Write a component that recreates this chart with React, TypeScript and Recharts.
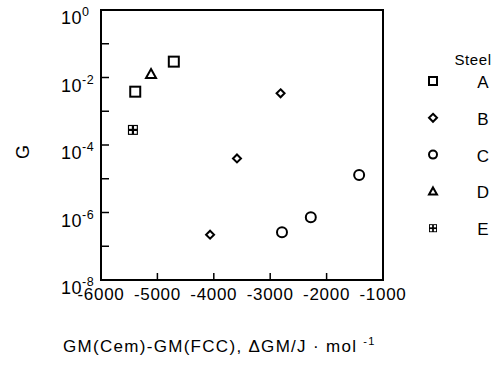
import React from "react";
import { ScatterChart, Scatter, XAxis, YAxis, ReferenceArea, Label } from "recharts";

const steelA = [
  { x: -5393, y: 0.0038 },
  { x: -4709, y: 0.0295 },
];
const steelB = [
  { x: -3589, y: 4.0e-5 },
  { x: -2816, y: 3.4e-3 },
  { x: -4066, y: 2.2e-7 },
];
const steelC = [
  { x: -1423, y: 1.3e-5 },
  { x: -2280, y: 7.2e-7 },
  { x: -2791, y: 2.6e-7 },
];
const steelD = [{ x: -5113, y: 0.0127 }];
const steelE = [{ x: -5434, y: 2.8e-4 }];

const xTicks = [-6000, -5000, -4000, -3000, -2000, -1000];
const yTicks = [1e-8, 1e-7, 1e-6, 1e-5, 1e-4, 1e-3, 1e-2, 1e-1, 1];
const legendNames = ["A", "B", "C", "D", "E"];

const FONT = "'Liberation Sans', Arial, Helvetica, sans-serif";

const Square = ({ cx, cy, s = 5 }: any) => (
  <rect x={cx - s} y={cy - s} width={2 * s} height={2 * s} fill="#fff" stroke="#000" strokeWidth={2} />
);
const Diamond = ({ cx, cy, s = 4 }: any) => (
  <path d={`M${cx},${cy - s} L${cx + s},${cy} L${cx},${cy + s} L${cx - s},${cy} Z`} fill="#fff" stroke="#000" strokeWidth={2} />
);
const Circle = ({ cx, cy, s = 4.5 }: any) => (
  <circle cx={cx} cy={cy} r={s} fill="#fff" stroke="#000" strokeWidth={2} />
);
const Triangle = ({ cx, cy, s = 5 }: any) => (
  <path d={`M${cx},${cy - s} L${cx + s},${cy + s * 0.8} L${cx - s},${cy + s * 0.8} Z`} fill="#fff" stroke="#000" strokeWidth={2} />
);
const GridSq = ({ cx, cy, s = 5 }: any) => {
  const h = s * 0.55;
  const g = s * 0.22;
  return (
    <g>
      <rect x={cx - s} y={cy - s} width={2 * s} height={2 * s} fill="#000" />
      <rect x={cx - g - h} y={cy - g - h} width={h} height={h} fill="#fff" />
      <rect x={cx + g} y={cy - g - h} width={h} height={h} fill="#fff" />
      <rect x={cx - g - h} y={cy + g} width={h} height={h} fill="#fff" />
      <rect x={cx + g} y={cy + g} width={h} height={h} fill="#fff" />
    </g>
  );
};

const shapes = [Square, Diamond, Circle, Triangle, GridSq];

const XTick = ({ x, y, payload }: any) => (
  <g>
    <line x1={x} y1={y} x2={x} y2={y - 7} stroke="#000" strokeWidth={1.5} />
    <text x={x} y={y + 20} textAnchor="middle" fontFamily={FONT} fontSize={17} letterSpacing={0.7} fill="#000">
      {payload.value}
    </text>
  </g>
);

const YTick = ({ x, y, payload }: any) => {
  const exp = Math.round(Math.log10(payload.value));
  const labeled = exp % 2 === 0;
  return (
    <g>
      <line x1={x} y1={y} x2={x + 8} y2={y} stroke="#000" strokeWidth={1.5} />
      {labeled && (
        <text x={x - 40} y={y + 14} textAnchor="start" fontFamily={FONT} fontSize={18} letterSpacing={0.5} fill="#000">
          <tspan>10</tspan>
          <tspan fontSize={12.5} dy={-8}>{exp}</tspan>
        </text>
      )}
    </g>
  );
};

const XLabel = ({ viewBox }: any) => {
  return (
    <text x={viewBox.x - 38} y={viewBox.y + 72} textAnchor="start" fontFamily={FONT} fontSize={17} letterSpacing={1.3} fill="#000">
      <tspan>GM(Cem)-GM(FCC),  </tspan>
      <tspan>{"\u0394"}GM/J {"\u00B7"} mol </tspan>
      <tspan fontSize={11} dy={-7}>-1</tspan>
    </text>
  );
};

const YLabel = ({ viewBox }: any) => {
  const x = viewBox.x + 23;
  const y = viewBox.y + viewBox.height / 2 + 7;
  return (
    <text x={x} y={y} transform={`rotate(-90 ${x} ${y})`} textAnchor="middle" dominantBaseline="central" fontFamily={FONT} fontSize={18} fill="#000">
      G
    </text>
  );
};

const LegendBox = () => (
  <svg width={90} height={220} style={{ position: "absolute", left: 418, top: 40, overflow: "visible" }}>
    <text x={55} y={25} textAnchor="middle" fontFamily={FONT} fontSize={15} letterSpacing={0.6} fill="#000">Steel</text>
    {legendNames.map((n, i) => {
      const Sh = shapes[i];
      const cy = 41 + i * 36.8;
      return (
        <g key={n}>
          <Sh cx={15} cy={cy} s={4} />
          <text x={65} y={cy + 7} textAnchor="middle" fontFamily={FONT} fontSize={17} fill="#000">{n}</text>
        </g>
      );
    })}
  </svg>
);

export default function App() {
  const series = [steelA, steelB, steelC, steelD, steelE];
  return (
    <div style={{ position: "absolute", left: 0, top: 0, width: 497, height: 365, background: "#fff" }}>
      <ScatterChart width={497} height={365} margin={{ top: 10, right: 114, bottom: 0, left: 0 }}>
        <XAxis
          type="number"
          dataKey="x"
          domain={[-6000, -1000]}
          ticks={xTicks}
          allowDataOverflow
          tickSize={0}
          tickMargin={0}
          tickLine={false}
          axisLine={{ stroke: "#000", strokeWidth: 2 }}
          tick={<XTick />}
          height={85}
          interval={0}
        >
          <Label content={<XLabel />} />
        </XAxis>
        <YAxis
          type="number"
          dataKey="y"
          scale="log"
          domain={[1e-8, 1]}
          ticks={yTicks}
          allowDataOverflow
          tickSize={0}
          tickMargin={0}
          tickLine={false}
          axisLine={{ stroke: "#000", strokeWidth: 2 }}
          tick={<YTick />}
          width={101}
          interval={0}
        >
          <Label content={<YLabel />} />
        </YAxis>
        <ReferenceArea x1={-6000} x2={-1000} y1={1e-8} y2={1} fill="none" stroke="#000" strokeWidth={2} ifOverflow="visible" />
        {series.map((d, i) => {
          const Sh = shapes[i];
          return (
            <Scatter
              key={legendNames[i]}
              name={legendNames[i]}
              data={d}
              isAnimationActive={false}
              shape={(p: any) => <Sh cx={p.cx} cy={p.cy} s={i === 1 ? 4 : 5} />}
            />
          );
        })}
      </ScatterChart>
      <LegendBox />
    </div>
  );
}
